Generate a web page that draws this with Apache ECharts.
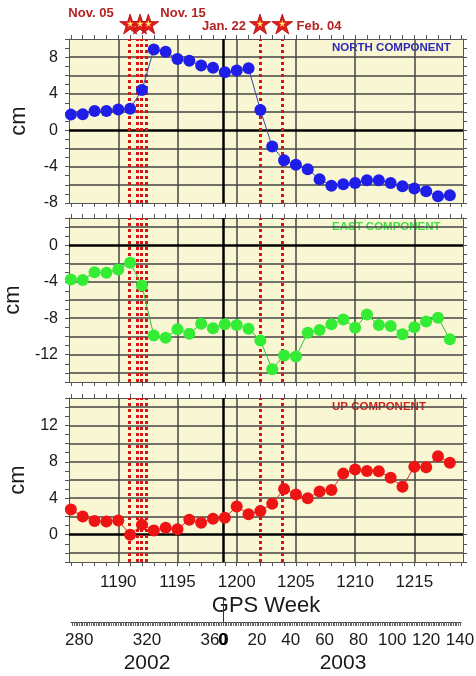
<!DOCTYPE html>
<html>
<head>
<meta charset="utf-8">
<script src="https://cdn.jsdelivr.net/npm/echarts@6/dist/echarts.min.js"></script>
<style>
html, body { margin: 0; padding: 0; background: #fff; }
#main { width: 476px; height: 676px; }
</style>
</head>
<body>
<div id="main"></div>
<script>
// GPS weeks of the weekly solutions
var weeks = [1186, 1187, 1188, 1189, 1190, 1191, 1192, 1193, 1194, 1195, 1196,
  1197, 1198, 1199, 1200, 1201, 1202, 1203, 1204, 1205, 1206, 1207, 1208, 1209,
  1210, 1211, 1212, 1213, 1214, 1215, 1216, 1217, 1218];
// displacement, cm
var north = [1.7, 1.75, 2.1, 2.1, 2.25, 2.35, 4.4, 8.85, 8.6, 7.8, 7.6, 7.1, 6.85,
  6.35, 6.55, 6.8, 2.2, -1.8, -3.3, -3.8, -4.3, -5.4, -6.1, -5.95, -5.8, -5.5,
  -5.5, -5.8, -6.15, -6.4, -6.7, -7.25, -7.15];
var east = [-3.75, -3.8, -2.95, -3.0, -2.65, -1.9, -4.4, -9.9, -10.15, -9.2, -9.7,
  -8.6, -9.1, -8.65, -8.75, -9.15, -10.45, -13.6, -12.1, -12.2, -9.6, -9.3,
  -8.65, -8.15, -9.05, -7.6, -8.75, -8.85, -9.75, -9.0, -8.35, -7.95, -10.3];
var up = [2.75, 2.0, 1.5, 1.45, 1.55, 0.0, 1.1, 0.45, 0.75, 0.6, 1.65, 1.3, 1.75,
  1.85, 3.1, 2.25, 2.6, 3.4, 5.0, 4.4, 4.0, 4.75, 4.9, 6.7, 7.15, 7.0, 6.95,
  6.25, 5.25, 7.45, 7.4, 8.6, 7.9];

// axes
var xMin = 1185.84, xMax = 1219.11;
var weekLabels = [1190, 1195, 1200, 1205, 1210, 1215];
var weekTicks = [1186, 1187, 1188, 1189, 1190, 1191, 1192, 1193, 1194, 1195, 1196,
  1197, 1198, 1199, 1200, 1201, 1202, 1203, 1204, 1205, 1206, 1207, 1208, 1209,
  1210, 1211, 1212, 1213, 1214, 1215, 1216, 1217, 1218, 1219];
var yearWeek = 1198.85;           // 2002/2003 boundary
var dayLabels2002 = [280, 320, 360];
var dayLabels2003 = [0, 20, 40, 60, 80, 100, 120, 140];

// events
var eventWeeks = [1190.93, 1191.6, 1191.98, 1192.34, 1201.97, 1203.82];
var starWeeks = [1191.0, 1191.84, 1192.54, 1201.97, 1203.85];

var northGrid = [-6, -4, -2, 2, 4, 6, 8];
var eastGrid = [-14, -12, -10, -8, -6, -4, -2, 2];
var upGrid = [-2, 2, 4, 6, 8, 10, 12, 14];

var FONT = '"Liberation Sans", Arial, sans-serif';
var STAR = 'path://M50,0 L61.2,34.5 L97.6,34.5 L68.2,55.9 L79.4,90.5 L50,69.1 L20.6,90.5 L31.8,55.9 L2.4,34.5 L38.8,34.5 Z';

var panels = [
  { name: 'NORTH COMPONENT', values: north, min: -8, max: 10, grid: northGrid,
    top: 39, gap: 39, dot: '#1e1ee8', line: '#3b45a8', title: '#2a2ab4' },
  { name: 'EAST COMPONENT', values: east, min: -15, max: 3, grid: eastGrid,
    top: 218, gap: 32, dot: '#35ec35', line: '#30c030', title: '#44dd44' },
  { name: 'UP COMPONENT', values: up, min: -3, max: 15, grid: upGrid,
    top: 398, gap: 33, dot: '#ee1414', line: '#d02a2a', title: '#cc2222' }
];

var chart = echarts.init(document.getElementById('main'));

var grids = [], xAxes = [], yAxes = [], series = [], graphics = [];

panels.forEach(function (p, i) {
  grids.push({ left: 69, right: 13, top: p.top, height: 164,
    show: true, backgroundColor: '#f9f6d3', borderWidth: 0, outerBoundsMode: 'none' });
  var last = i === panels.length - 1;
  var axisLine = { show: true, onZero: false, lineStyle: { color: '#555', width: 1 } };
  xAxes.push({
    type: 'value', gridIndex: i, position: 'bottom', min: xMin, max: xMax,
    axisLine: axisLine,
    axisTick: { show: true, customValues: weekTicks, length: 4, lineStyle: { color: '#555' } },
    axisLabel: last ? { show: true, customValues: weekLabels, margin: 12, fontSize: 17,
      color: '#1a1a1a', fontFamily: FONT,
      formatter: function (v) { return String(v); } } : { show: false },
    splitLine: { show: false },
    name: last ? 'GPS Week' : '', nameLocation: 'middle', nameGap: 33,
    nameTextStyle: { fontSize: 22, color: '#1a1a1a', fontFamily: FONT }
  });
  xAxes.push({
    type: 'value', gridIndex: i, position: 'top', min: xMin, max: xMax,
    axisLine: axisLine,
    axisTick: { show: true, customValues: weekTicks, length: 4, lineStyle: { color: '#555' } },
    axisLabel: { show: false }, splitLine: { show: false }
  });
  yAxes.push({
    type: 'value', gridIndex: i, position: 'left', min: p.min, max: p.max, interval: 1,
    axisLine: axisLine,
    axisTick: { show: true, length: 4, lineStyle: { color: '#555' } },
    axisLabel: { margin: 11, fontSize: 16, color: '#1a1a1a', fontFamily: FONT,
      formatter: function (v) { return v % 4 === 0 ? String(v) : ''; } },
    splitLine: { show: false },
    name: 'cm', nameLocation: 'middle', nameGap: p.gap,
    nameTextStyle: { fontSize: 22, color: '#1a1a1a', fontFamily: FONT }
  });
  yAxes.push({
    type: 'value', gridIndex: i, position: 'right', min: p.min, max: p.max, interval: 1,
    axisLine: axisLine,
    axisTick: { show: true, length: 4, lineStyle: { color: '#555' } },
    axisLabel: { show: false }, splitLine: { show: false }
  });

  var lines = [];
  p.grid.forEach(function (v) {
    lines.push({ yAxis: v, lineStyle: { color: '#444', width: 1.5, type: 'solid' } });
  });
  weekLabels.forEach(function (w) {
    lines.push({ xAxis: w, lineStyle: { color: '#444', width: 1.5, type: 'solid' } });
  });
  lines.push({ yAxis: 0, lineStyle: { color: '#000', width: 2.5, type: 'solid' } });
  lines.push({ xAxis: yearWeek, lineStyle: { color: '#000', width: 2.5, type: 'solid' } });
  eventWeeks.forEach(function (w) {
    lines.push({ xAxis: w, lineStyle: { color: '#d41616', width: 3, type: [3, 3] } });
  });

  series.push({
    type: 'line', xAxisIndex: i * 2, yAxisIndex: i * 2, data: [], z: 1, silent: true,
    markLine: { silent: true, symbol: ['none', 'none'], label: { show: false },
      animation: false, data: lines }
  });
  series.push({
    type: 'line', xAxisIndex: i * 2, yAxisIndex: i * 2, z: 5,
    data: weeks.map(function (w, k) { return [w, p.values[k]]; }),
    symbol: 'circle', symbolSize: 12, showSymbol: true,
    itemStyle: { color: p.dot },
    lineStyle: { color: p.line, width: 1 },
    animation: false
  });

  graphics.push({ type: 'text', left: 332, top: p.top + 3,
    style: { text: p.name, fill: p.title, font: 'bold 11.5px ' + FONT } });
});

// star row
grids.push({ left: 69, right: 13, top: 14, height: 20, outerBoundsMode: 'none' });
xAxes.push({ type: 'value', gridIndex: 3, min: xMin, max: xMax, show: false });
yAxes.push({ type: 'value', gridIndex: 3, min: -1, max: 1, show: false });
series.push({
  type: 'scatter', xAxisIndex: 6, yAxisIndex: 6, clip: false, z: 6, animation: false,
  data: starWeeks.map(function (w) { return [w, 0]; }),
  symbol: STAR, symbolSize: [21, 20],
  itemStyle: { color: '#e31b1b', borderColor: '#b01010', borderWidth: 0.8, opacity: 1 }
});
series.push({
  type: 'scatter', xAxisIndex: 6, yAxisIndex: 6, clip: false, z: 7, animation: false,
  data: starWeeks.map(function (w) { return [w, 0.05]; }),
  symbol: STAR, symbolSize: 7,
  itemStyle: { color: '#ffe868', opacity: 1 }
});

// day-of-year axis
var dayMin = 365 + (xMin - yearWeek) * 7;
var dayMax = 365 + (xMax - yearWeek) * 7;
var dayTicks = [];
for (var d = Math.ceil(dayMin); d <= Math.floor(dayMax); d++) dayTicks.push(d);
var dayLabelValues = dayLabels2002.concat(dayLabels2003.map(function (v) { return 365 + v; }));

grids.push({ left: 71, right: 15, top: 597, height: 25, outerBoundsMode: 'none' });
xAxes.push({
  type: 'value', gridIndex: 4, min: dayMin + 1.2, max: dayMax - 1.2,
  axisLine: { show: true, lineStyle: { color: '#444', width: 1 } },
  axisTick: { show: true, customValues: dayTicks, length: 4, lineStyle: { color: '#666', width: 1 } },
  axisLabel: { show: true, customValues: dayLabelValues, margin: 10, fontSize: 17,
    color: '#1a1a1a', fontFamily: FONT, hideOverlap: false,
    formatter: function (v) { return v === 365 ? '{b|0}' : String(v < 365 ? v : v - 365); },
    rich: { b: { fontWeight: 'bold', fontSize: 17, color: '#000', fontFamily: FONT } } },
  splitLine: { show: false }
});
yAxes.push({ type: 'value', gridIndex: 4, min: 0, max: 1, show: false });
series.push({
  type: 'line', xAxisIndex: 7, yAxisIndex: 7, data: [], silent: true,
  markLine: { silent: true, symbol: ['none', 'none'], label: { show: false }, animation: false,
    data: [{ xAxis: 365, lineStyle: { color: '#333', width: 1, type: 'solid' } }] }
});

// event labels and years
graphics.push({ type: 'text', x: 91, y: 13, style: { text: 'Nov. 05', fill: '#b52222',
  font: 'bold 13px ' + FONT, align: 'center', verticalAlign: 'middle' } });
graphics.push({ type: 'text', x: 183, y: 13, style: { text: 'Nov. 15', fill: '#b52222',
  font: 'bold 13px ' + FONT, align: 'center', verticalAlign: 'middle' } });
graphics.push({ type: 'text', x: 224, y: 26, style: { text: 'Jan. 22', fill: '#b52222',
  font: 'bold 13px ' + FONT, align: 'center', verticalAlign: 'middle' } });
graphics.push({ type: 'text', x: 319, y: 26, style: { text: 'Feb. 04', fill: '#b52222',
  font: 'bold 13px ' + FONT, align: 'center', verticalAlign: 'middle' } });
graphics.push({ type: 'text', x: 147, y: 663, style: { text: '2002', fill: '#1a1a1a',
  font: '21px ' + FONT, align: 'center', verticalAlign: 'middle' } });
graphics.push({ type: 'text', x: 343, y: 663, style: { text: '2003', fill: '#1a1a1a',
  font: '21px ' + FONT, align: 'center', verticalAlign: 'middle' } });

chart.setOption({
  animation: false,
  backgroundColor: '#fff',
  grid: grids,
  xAxis: xAxes,
  yAxis: yAxes,
  series: series,
  graphic: graphics
});
</script>
</body>
</html>
